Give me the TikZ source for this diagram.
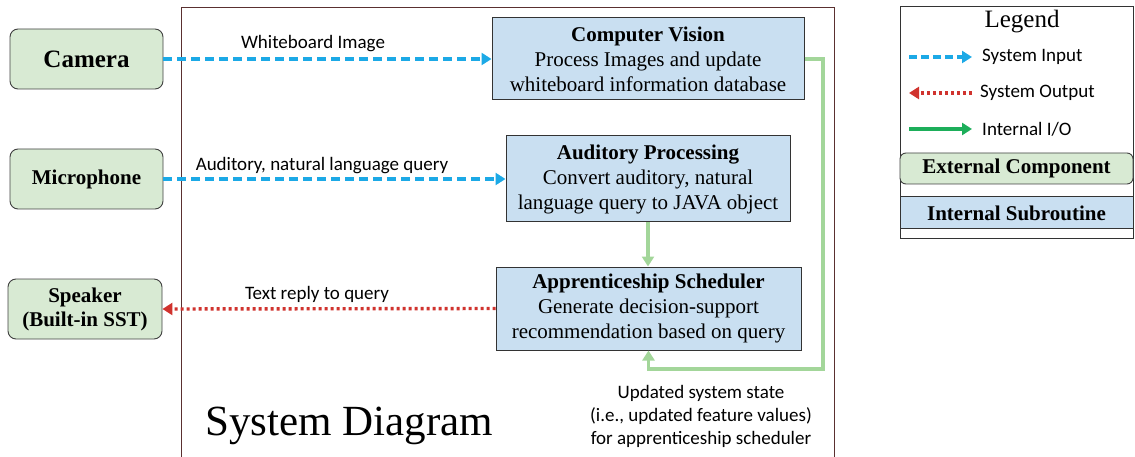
\documentclass[tikz,border=0pt]{standalone}
\usepackage{fontspec}
\setmainfont{Liberation Serif}
\newfontfamily\labelfont{Carlito}
\usetikzlibrary{arrows.meta}

\definecolor{extfill}{HTML}{D8EAD3}
\definecolor{intfill}{HTML}{C9DFF1}
\definecolor{inblue}{HTML}{1CA9E6}
\definecolor{outred}{HTML}{D0332E}
\definecolor{ioline}{HTML}{A3D69A}
\definecolor{iolegend}{HTML}{1DAE5A}
\definecolor{framecol}{HTML}{5A3030}

\tikzset{
  extbox/.style={draw=black!75, line width=0.9pt, fill=extfill, rounded corners=8pt,
    inner sep=0pt, align=center, font=\fontsize{21}{24}\selectfont\bfseries},
  intbox/.style={draw=black!80, line width=1pt, fill=intfill, inner sep=0pt,
    align=center, font=\fontsize{21}{25}\selectfont},
  sysin/.style={draw=inblue, line width=3.6pt, dash pattern=on 9pt off 5pt,
    -{Triangle[length=10pt,width=12pt]}},
  sysout/.style={draw=outred, line width=3.4pt, dash pattern=on 3pt off 3pt,
    -{Triangle[length=10pt,width=12pt]}},
  intio/.style={draw=ioline, line width=3.4pt, -{Triangle[length=10pt,width=12pt]}},
  flowlabel/.style={font=\labelfont\fontsize{19}{22}\selectfont, inner sep=0pt},
}

\begin{document}
\begin{tikzpicture}[x=1pt, y=-1pt]
\useasboundingbox (0,0) rectangle (1135,457);

% boundary of the system
\draw[framecol, line width=0.9pt] (181,470) -- (181,7) -- (834,7) -- (834,470);

% external components
\node[extbox, minimum width=153pt, minimum height=60pt] (cam) at (86.5,59)
  {\fontsize{25}{28}\selectfont Camera};
\node[extbox, minimum width=153pt, minimum height=60pt] (mic) at (86.5,179) {Microphone};
\node[extbox, minimum width=154pt, minimum height=60pt] (spk) at (85,309)
  {Speaker\\(Built-in SST)};

% internal subroutines
\node[intbox, minimum width=312pt, minimum height=82pt] (cv) at (648,59)
  {{\fontsize{21}{25}\selectfont\bfseries Computer Vision}\\Process Images and update\\whiteboard information database};
\node[intbox, minimum width=284pt, minimum height=86pt] (ap) at (648,179)
  {{\fontsize{21}{25}\selectfont\bfseries Auditory Processing}\\Convert auditory, natural\\language query to JAVA object};
\node[intbox, minimum width=305pt, minimum height=83pt] (as) at (648.5,308.5)
  {{\fontsize{21}{25}\selectfont\bfseries Apprenticeship Scheduler}\\Generate decision-support\\recommendation based on query};

% system inputs and output
\draw[sysin] (cam.east) -- (cv.west);
\node[flowlabel] (lblcam) at (313,44) {Whiteboard Image};
\draw[sysin] (mic.east) -- (ap.west);
\node[flowlabel] (lblmic) at (322,166) {Auditory, natural language query};
\draw[sysout] (as.west) -- (spk.east);
\node[flowlabel] (lblspk) at (317,294) {Text reply to query};

% internal flows
\draw[intio] (ap.south) -- (ap.south |- as.north);
\coordinate (loop) at (823,369);
\draw[intio] (cv.east) -| (loop) -| (as.south);
\node[flowlabel, align=center, font=\labelfont\fontsize{19}{23}\selectfont] (lblloop) at (701,416)
  {Updated system state\\(i.e., updated feature values)\\for apprenticeship scheduler};

% title
\node[font=\fontsize{43}{46}\selectfont, inner sep=0pt] (title) at (349,426) {System Diagram};

% legend
\draw[black!80, line width=0.9pt] (900,6) rectangle (1133,238);
\node[font=\fontsize{25}{28}\selectfont, inner sep=0pt] (legtitle) at (1022,22) {Legend};
\coordinate (la1) at (909,57);  \coordinate (lb1) at (972,57);
\coordinate (la2) at (909,93);  \coordinate (lb2) at (972,93);
\coordinate (la3) at (909,129); \coordinate (lb3) at (972,129);
\draw[sysin, dash pattern=on 8pt off 4pt] (la1) -- (lb1);
\draw[sysout] (lb2) -- (la2);
\draw[intio, draw=iolegend] (la3) -- (lb3);
\node[flowlabel, anchor=west] (legin) at (982,57) {System Input};
\node[flowlabel, anchor=west] (legout) at (980,93) {System Output};
\node[flowlabel, anchor=west] (legio) at (982,129) {Internal I/O};
\node[extbox, minimum width=233pt, minimum height=31pt, rounded corners=6pt] (legext) at (1016.5,168.5)
  {External Component};
\node[intbox, minimum width=233pt, minimum height=32pt, font=\fontsize{21}{24}\selectfont\bfseries] (legint) at (1016.5,213)
  {Internal Subroutine};
\end{tikzpicture}
\end{document}
